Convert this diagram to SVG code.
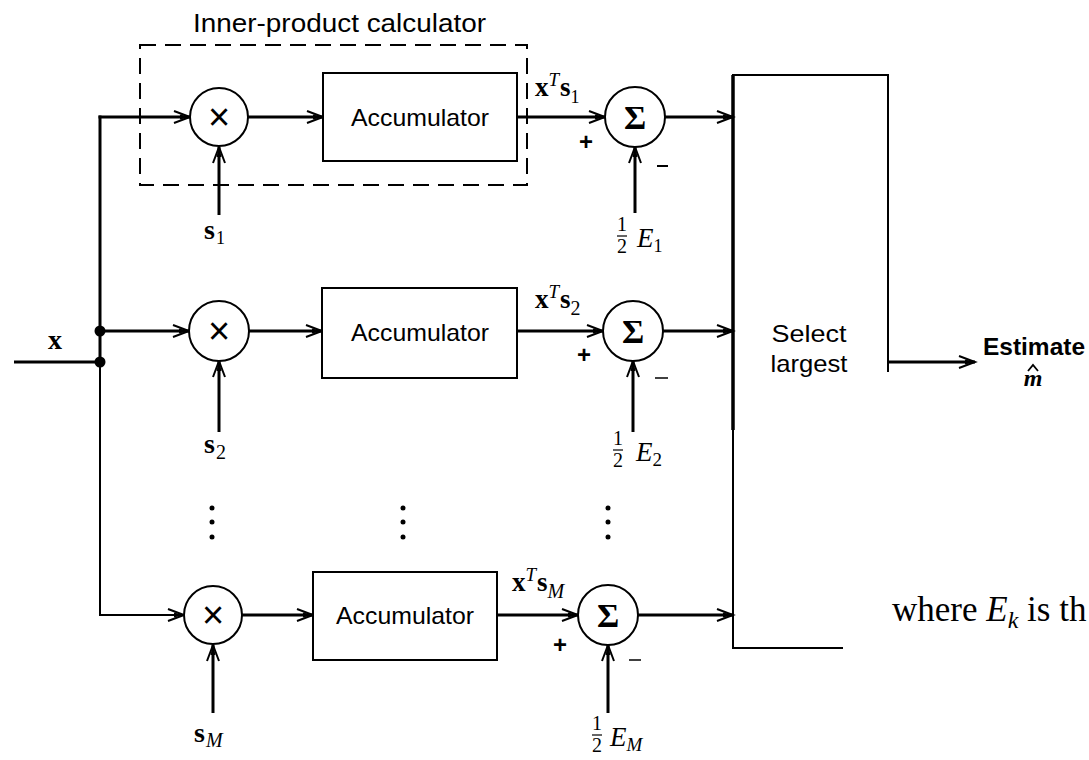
<svg xmlns="http://www.w3.org/2000/svg" width="1089" height="760" viewBox="0 0 1089 760">
<defs>
<marker id="arr" markerUnits="userSpaceOnUse" markerWidth="22" markerHeight="16" refX="19" refY="8" orient="auto">
<path d="M3,2 L19,8 L3,14" fill="none" stroke="#000" stroke-width="2"/>
<path d="M9,5.5 L19,8 L9,10.5 Z" fill="#000"/>
</marker>
<style>
.w{stroke:#000;stroke-width:3;fill:none}
.wt{stroke:#000;stroke-width:2;fill:none}
.c{stroke:#000;stroke-width:2;fill:#fff}
.b{stroke:#000;stroke-width:2;fill:#fff}
.sans{font-family:"Liberation Sans",Arial,sans-serif;font-size:24px;fill:#000}
.ser{font-family:"Liberation Serif","Times New Roman",serif;fill:#000}
.bold{font-weight:bold}
.it{font-style:italic}
.dot{fill:#000}
.mul{font-family:"Liberation Sans",Arial,sans-serif;font-size:38px;fill:#000}
.sig{font-family:"Liberation Serif","Times New Roman",serif;font-size:34px;font-weight:bold;fill:#000}
</style>
</defs>
<rect width="1089" height="760" fill="#fff"/>

<g id="inner-product-box">
<rect x="140" y="45" width="387" height="140" fill="none" stroke="#000" stroke-width="2" stroke-dasharray="16,9"/>
<text class="sans" x="193" y="32" textLength="293" lengthAdjust="spacingAndGlyphs" style="font-size:26px">Inner-product calculator</text>
</g>

<g id="connectors">
<line class="w" x1="14" y1="362" x2="100" y2="362"/>
<line class="w" x1="100" y1="115.5" x2="100" y2="362"/>
<line class="wt" x1="100" y1="362" x2="100" y2="616"/>
<line class="w" x1="98.5" y1="117" x2="190" y2="117" marker-end="url(#arr)"/>
<line class="w" x1="100" y1="331" x2="189" y2="331" marker-end="url(#arr)"/>
<line class="wt" x1="100" y1="615" x2="184" y2="615" marker-end="url(#arr)"/>
<line class="w" x1="248" y1="117" x2="323" y2="117" marker-end="url(#arr)"/>
<line class="w" x1="517" y1="117" x2="605" y2="117" marker-end="url(#arr)"/>
<line class="w" x1="665" y1="117" x2="733" y2="117" marker-end="url(#arr)"/>
<line class="w" x1="219" y1="215" x2="219" y2="147" marker-end="url(#arr)"/>
<line class="w" x1="635" y1="213" x2="635" y2="147" marker-end="url(#arr)"/>
<line class="w" x1="249" y1="331" x2="322" y2="331" marker-end="url(#arr)"/>
<line class="w" x1="517" y1="331" x2="603" y2="331" marker-end="url(#arr)"/>
<line class="w" x1="663" y1="331" x2="733" y2="331" marker-end="url(#arr)"/>
<line class="w" x1="219" y1="432" x2="219" y2="361" marker-end="url(#arr)"/>
<line class="w" x1="633" y1="432" x2="633" y2="361" marker-end="url(#arr)"/>
<line class="w" x1="242" y1="615" x2="313" y2="615" marker-end="url(#arr)"/>
<line class="w" x1="497" y1="615" x2="578" y2="615" marker-end="url(#arr)"/>
<line class="w" x1="638" y1="615" x2="733" y2="615" marker-end="url(#arr)"/>
<line class="w" x1="213" y1="713" x2="213" y2="645" marker-end="url(#arr)"/>
<line class="w" x1="608" y1="713" x2="608" y2="645" marker-end="url(#arr)"/>
<line class="w" x1="887" y1="362" x2="975" y2="362" marker-end="url(#arr)"/>
<circle class="dot" cx="100" cy="331" r="5.5"/>
<circle class="dot" cx="100" cy="362" r="5.5"/>
</g>

<text class="ser bold" x="48" y="349" style="font-size:28px">x</text>

<g id="mult1"><circle class="c" cx="219" cy="117" r="29"/><text class="mul" x="219" y="130" text-anchor="middle">×</text></g>
<g id="mult2"><circle class="c" cx="219" cy="331" r="30"/><text class="mul" x="219" y="344" text-anchor="middle">×</text></g>
<g id="mult3"><circle class="c" cx="213" cy="615" r="29"/><text class="mul" x="213" y="628" text-anchor="middle">×</text></g>

<g id="acc1"><rect class="b" x="323" y="73" width="194" height="88"/><text class="sans" x="420" y="126" text-anchor="middle" textLength="138" lengthAdjust="spacingAndGlyphs">Accumulator</text></g>
<g id="acc2"><rect class="b" x="322" y="288" width="195" height="90"/><text class="sans" x="420" y="341" text-anchor="middle" textLength="138" lengthAdjust="spacingAndGlyphs">Accumulator</text></g>
<g id="acc3"><rect class="b" x="313" y="572" width="184" height="88"/><text class="sans" x="405" y="624" text-anchor="middle" textLength="138" lengthAdjust="spacingAndGlyphs">Accumulator</text></g>

<g id="sum1"><circle class="c" cx="635" cy="117" r="30"/><text class="sig" x="635" y="129" text-anchor="middle">Σ</text></g>
<g id="sum2"><circle class="c" cx="633" cy="331" r="30"/><text class="sig" x="633" y="343" text-anchor="middle">Σ</text></g>
<g id="sum3"><circle class="c" cx="608" cy="615" r="30"/><text class="sig" x="608" y="627" text-anchor="middle">Σ</text></g>

<g id="select-largest">
<path d="M733,648 L733,75 L888,75 L888,372" fill="none" stroke="#000" stroke-width="2"/>
<line x1="733" y1="75" x2="733" y2="430" stroke="#000" stroke-width="3.5"/>
<line x1="732" y1="648" x2="843" y2="648" stroke="#000" stroke-width="2"/>
<text class="sans" x="809" y="342" text-anchor="middle" textLength="75" lengthAdjust="spacingAndGlyphs">Select</text>
<text class="sans" x="809" y="372" text-anchor="middle" textLength="77" lengthAdjust="spacingAndGlyphs">largest</text>
</g>

<g id="labels">
<text class="ser bold" x="204" y="239" style="font-size:28px">s<tspan dx="1" dy="5" style="font-size:18px;font-weight:normal">1</tspan></text>
<text class="ser bold" x="204" y="453" style="font-size:28px">s<tspan dx="1" dy="6" style="font-size:20px;font-weight:normal">2</tspan></text>
<text class="ser bold" x="194" y="742" style="font-size:28px">s<tspan dx="1" dy="5" class="it" style="font-size:20px;font-weight:normal">M</tspan></text>

<text class="ser bold" x="535" y="96" style="font-size:27px">x<tspan dy="-10" class="it" style="font-size:19px;font-weight:normal">T</tspan><tspan dy="10" dx="1">s</tspan><tspan dy="7" style="font-size:18px;font-weight:normal">1</tspan></text>
<text class="ser bold" x="535" y="308" style="font-size:27px">x<tspan dy="-10" class="it" style="font-size:19px;font-weight:normal">T</tspan><tspan dy="10" dx="1">s</tspan><tspan dy="7" style="font-size:20px;font-weight:normal">2</tspan></text>
<text class="ser bold" x="512" y="591" style="font-size:27px">x<tspan dy="-10" class="it" style="font-size:19px;font-weight:normal">T</tspan><tspan dy="10" dx="1">s</tspan><tspan dy="7" class="it" style="font-size:20px;font-weight:normal">M</tspan></text>

<text class="sans bold" x="586" y="150" text-anchor="middle" style="font-size:24px">+</text>
<text class="sans bold" x="584" y="363" text-anchor="middle" style="font-size:24px">+</text>
<text class="sans bold" x="560" y="653" text-anchor="middle" style="font-size:24px">+</text>
<line x1="657" y1="166" x2="668" y2="166" stroke="#000" stroke-width="2"/>
<line x1="655" y1="378" x2="668" y2="378" stroke="#000" stroke-width="1.5"/>
<line x1="629" y1="660" x2="641" y2="660" stroke="#000" stroke-width="1.5"/>

<text class="ser" x="622" y="231" text-anchor="middle" style="font-size:20px">1</text>
<line x1="617" y1="236" x2="627" y2="236" stroke="#000" stroke-width="1.2"/>
<text class="ser" x="622" y="253" text-anchor="middle" style="font-size:20px">2</text>
<text class="ser it" x="637" y="247" style="font-size:27px">E<tspan dy="5" style="font-size:18px;font-style:normal">1</tspan></text>

<text class="ser" x="618" y="445" text-anchor="middle" style="font-size:20px">1</text>
<line x1="613" y1="450" x2="623" y2="450" stroke="#000" stroke-width="1.2"/>
<text class="ser" x="618" y="467" text-anchor="middle" style="font-size:20px">2</text>
<text class="ser it" x="636" y="461" style="font-size:27px">E<tspan dy="5" style="font-size:19px;font-style:normal">2</tspan></text>

<text class="ser" x="597" y="730" text-anchor="middle" style="font-size:20px">1</text>
<line x1="592" y1="735" x2="602" y2="735" stroke="#000" stroke-width="1.2"/>
<text class="ser" x="597" y="752" text-anchor="middle" style="font-size:20px">2</text>
<text class="ser it" x="610" y="746" style="font-size:27px">E<tspan dy="5" style="font-size:19px">M</tspan></text>

<circle class="dot" cx="212" cy="508" r="2.5"/><circle class="dot" cx="212" cy="522" r="2.5"/><circle class="dot" cx="212" cy="537" r="2.5"/>
<circle class="dot" cx="403" cy="508" r="2.5"/><circle class="dot" cx="403" cy="522" r="2.5"/><circle class="dot" cx="403" cy="537" r="2.5"/>
<circle class="dot" cx="608" cy="508" r="2.5"/><circle class="dot" cx="608" cy="522" r="2.5"/><circle class="dot" cx="608" cy="537" r="2.5"/>

<text class="sans" x="983" y="355" textLength="102" lengthAdjust="spacingAndGlyphs" style="font-weight:bold">Estimate</text>
<text class="ser it bold" x="1033" y="386" text-anchor="middle" style="font-size:24px">m</text>
<path d="M1028,371 L1033,365 L1038,371" fill="none" stroke="#000" stroke-width="1.8"/>

<text class="ser" x="892" y="621" style="font-size:35px">where <tspan class="it">E</tspan><tspan class="it" dy="7" style="font-size:24px">k</tspan><tspan dy="-7"> is th</tspan></text>
</g>
</svg>
